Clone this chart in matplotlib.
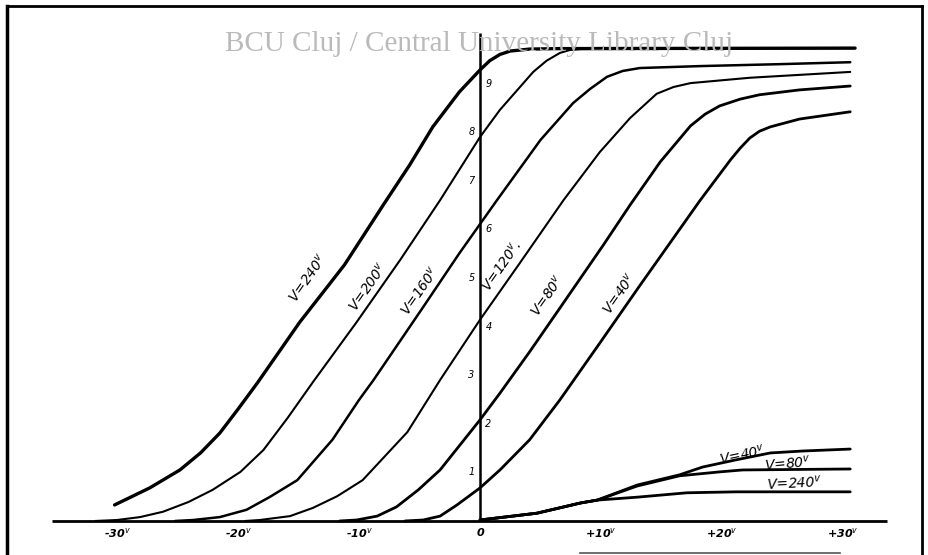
import matplotlib.pyplot as plt
from matplotlib.lines import Line2D

# grid voltage (V) and anode current (mA)
v240_x = [-30.2, -27.3, -24.8, -23.1, -21.5, -20.0, -18.4, -14.9, -11.2, -8.0, -5.8, -3.9, -1.7,
          0.0, 0.8, 1.65, 2.5, 4.1, 6.6, 31.0]
v240_y = [0.33, 0.68, 1.05, 1.40, 1.81, 2.30, 2.84, 4.09, 5.27, 6.50, 7.33, 8.11, 8.83,
          9.28, 9.47, 9.60, 9.67, 9.71, 9.72, 9.73]

v200_x = [-31.8, -30.0, -28.1, -26.2, -24.1, -22.1, -19.8, -17.9, -15.9, -13.8, -10.2, -6.6, -3.3,
          0.0, 1.65, 4.4, 5.5, 6.6, 7.4, 8.3, 31.0]
v200_y = [0.0, 0.02, 0.08, 0.19, 0.39, 0.64, 1.01, 1.46, 2.12, 2.86, 4.09, 5.37, 6.60,
          7.90, 8.46, 9.24, 9.47, 9.63, 9.69, 9.71, 9.73]

v160_x = [-25.2, -23.7, -21.5, -19.3, -17.4, -15.1, -12.2, -10.0, -8.8, -4.7, -1.7, 1.4, 5.0, 7.7,
          9.1, 10.5, 11.8, 13.2, 18.2, 24.8, 30.6]
v160_y = [0.0, 0.02, 0.08, 0.23, 0.49, 0.84, 1.67, 2.49, 2.90, 4.40, 5.51, 6.60, 7.84, 8.60,
          8.89, 9.14, 9.26, 9.32, 9.36, 9.40, 9.44]

v120_x = [-19.4, -18.2, -15.7, -13.8, -11.8, -9.7, -6.0, -3.3, 0.0, 3.3, 6.9, 9.9, 12.4, 14.6,
          16.0, 17.4, 22.3, 30.6]
v120_y = [0.0, 0.02, 0.10, 0.27, 0.51, 0.84, 1.83, 2.90, 4.14, 5.31, 6.60, 7.59, 8.29, 8.79,
          8.93, 9.01, 9.12, 9.24]

v80_x = [-11.6, -10.2, -8.5, -6.9, -5.1, -3.3, 0.0, 1.65, 4.1, 6.6, 10.2, 12.4, 14.9, 17.4,
         18.6, 19.8, 21.5, 23.1, 26.4, 30.6]
v80_y = [0.0, 0.02, 0.10, 0.29, 0.64, 1.05, 2.08, 2.63, 3.48, 4.38, 5.68, 6.50, 7.39, 8.13,
         8.37, 8.54, 8.68, 8.77, 8.87, 8.95]

v40_x = [-6.2, -4.7, -3.3, -1.9, 0.0, 1.65, 4.1, 6.6, 9.9, 13.2, 18.2, 20.7, 21.5, 22.3, 23.1,
         24.0, 26.4, 30.6]
v40_y = [0.0, 0.02, 0.10, 0.33, 0.68, 1.05, 1.67, 2.49, 3.66, 4.84, 6.60, 7.43, 7.67, 7.88, 8.02,
         8.11, 8.27, 8.42]

# the three low curves on the positive side
low240_x = [0.0, 4.7, 8.3, 9.7, 13.0, 17.1, 21.2, 30.6]
low240_y = [0.02, 0.16, 0.37, 0.43, 0.49, 0.58, 0.60, 0.60]
low80_x = [0.0, 4.7, 8.3, 9.7, 13.0, 16.5, 19.8, 21.7, 30.6]
low80_y = [0.02, 0.16, 0.37, 0.43, 0.72, 0.93, 1.01, 1.05, 1.07]
low40_x = [0.0, 4.7, 8.3, 9.7, 13.0, 16.5, 18.4, 21.2, 24.0, 26.7, 30.6]
low40_y = [0.02, 0.16, 0.37, 0.43, 0.74, 0.95, 1.11, 1.26, 1.40, 1.44, 1.48]

xtick_vals = [-30, -20, -10, 0, 10, 20, 30]
xtick_text = ['-30$^v$', '-20$^v$', '-10$^v$', '0', '+10$^v$', '+20$^v$', '+30$^v$']
ytick_vals = [1, 2, 3, 4, 5, 6, 7, 8, 9]
ytick_side = [-1, 1, -1, 1, -1, 1, -1, -1, 1]

labels = ['V=240$^v$', 'V=200$^v$', 'V=160$^v$', 'V=120$^v$.', 'V=80$^v$', 'V=40$^v$']
label_x = [-14.2, -9.3, -5.0, 1.8, 5.6, 11.5]
label_y = [5.0, 4.81, 4.73, 5.25, 4.63, 4.67]
low_labels = ['V=40$^v$', 'V=80$^v$', 'V=240$^v$']
low_label_x = [21.7, 25.4, 26.0]
low_label_y = [1.36, 1.19, 0.78]

fig = plt.figure(figsize=(9.29, 5.55), dpi=100)
ax = fig.add_axes([0, 0, 1, 1])
ax.set_xlim(-39.67, 37.11)
ax.set_ylim(-0.70, 10.72)
ax.axis('off')

# axes drawn by hand
ax.plot([-35.4, 33.6], [0, 0], color='black', lw=2.0, solid_capstyle='butt')
ax.plot([0, 0], [0, 10.04], color='black', lw=1.8, solid_capstyle='butt')

curves = [(v240_x, v240_y, 2.4), (v200_x, v200_y, 1.5), (v160_x, v160_y, 1.8),
          (v120_x, v120_y, 1.5), (v80_x, v80_y, 2.0), (v40_x, v40_y, 2.0)]
for cx, cy, w in curves:
    ax.plot(cx, cy, color='black', lw=w, solid_capstyle='round', solid_joinstyle='round')
for cx, cy in [(low240_x, low240_y), (low80_x, low80_y), (low40_x, low40_y)]:
    ax.plot(cx, cy, color='black', lw=2.0, solid_capstyle='round', solid_joinstyle='round')

hand = dict(family='DejaVu Sans', style='italic', color='black')
for xv, t in zip(xtick_vals, xtick_text):
    ax.text(xv, -0.25, t, ha='center', va='center', fontsize=8, fontweight='bold', **hand)
for yv, s in zip(ytick_vals, ytick_side):
    ax.text(0.7 * s, yv, str(yv), ha='center', va='center', fontsize=7, **hand)

for t, lx, ly in zip(labels, label_x, label_y):
    ax.text(lx, ly, t, rotation=55, ha='center', va='center', fontsize=10, **hand)
for t, lx, ly, r in zip(low_labels, low_label_x, low_label_y, [12, 5, 3]):
    ax.text(lx, ly, t, rotation=r, ha='center', va='center', fontsize=10, **hand)

# scan watermark
fig.text(0.242, 0.908, 'BCU Cluj / Central University Library Cluj', ha='left', va='baseline',
         family='Liberation Serif', fontsize=21, color='#bababa')

# frame of the sheet
fig.add_artist(Line2D([0.0075, 0.0075], [0.0, 0.989], color='black', lw=2.5))
fig.add_artist(Line2D([0.0075, 0.9925], [0.989, 0.989], color='black', lw=2.0))
fig.add_artist(Line2D([0.9925, 0.9925], [0.0, 0.989], color='black', lw=2.0))
fig.add_artist(Line2D([0.624, 0.904], [0.004, 0.004], color='#555555', lw=1.2))

fig.savefig('out.png', dpi=100)
